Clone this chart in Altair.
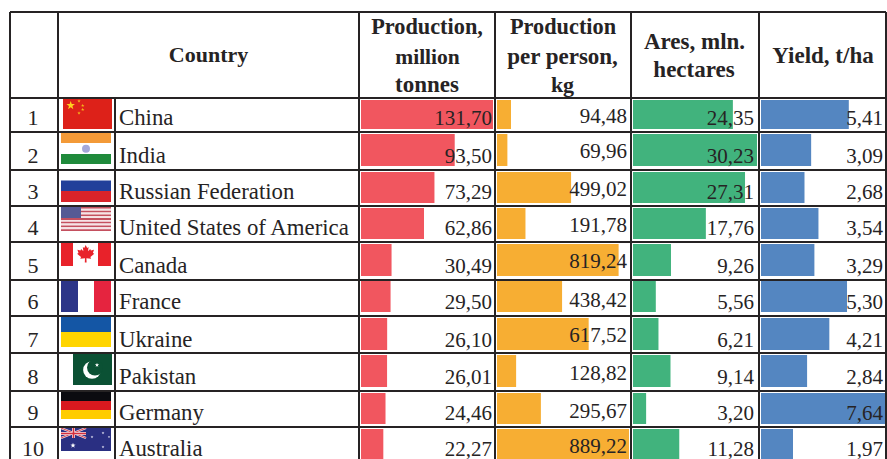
import altair as alt
import pandas as pd

# Table content
countries = ["China", "India", "Russian Federation", "United States of America", "Canada",
             "France", "Ukraine", "Pakistan", "Germany", "Australia"]
production = [131.70, 93.50, 73.29, 62.86, 30.49, 29.50, 26.10, 26.01, 24.46, 22.27]
per_person = [94.48, 69.96, 499.02, 191.78, 819.24, 438.42, 617.52, 128.82, 295.67, 889.22]
area = [24.35, 30.23, 27.31, 17.76, 9.26, 5.56, 6.21, 9.14, 3.20, 11.28]
crop_yield = [5.41, 3.09, 2.68, 3.54, 3.29, 5.30, 4.21, 2.84, 7.64, 1.97]

# Table geometry, in pixels
COL_EDGES = [10, 58, 115, 359, 495, 631, 759, 886]
ROW_EDGES = [12, 98, 132, 170, 206, 242, 280, 316, 353, 391, 427, 463]
BAR_EDGES = [100, 129, 134, 166, 172, 203, 208, 239, 244, 276,
             281, 312, 318, 350, 355, 387, 393, 424, 429, 461]
BASE_MAIN = [125, 163, 199, 235, 273, 309, 347, 384, 420, 456]
BASE_PER_PERSON = [123, 158, 196, 232, 268, 307, 342, 380, 418, 453]
INK = "#262324"
SERIF = "Liberation Serif"
NUM_SIZE = 21
NAME_SIZE = 22.8

x_grid = alt.Scale(domain=list(range(8)), range=COL_EDGES, nice=False, zero=False)
y_grid = alt.Scale(domain=list(range(-1, 11)), range=ROW_EDGES, nice=False, zero=False)
y_bars = alt.Scale(domain=[i / 2 for i in range(20)], range=BAR_EDGES, nice=False, zero=False)


def comma(v):
    return f"{v:.2f}".replace(".", ",")


def no_axis(field, scale):
    return alt.X(field, type="quantitative", axis=None, scale=scale)


def no_axis_y(field, scale):
    return alt.Y(field, type="quantitative", axis=None, scale=scale)


def column_layers(values, color, left, right, text_dx, col_right, baselines):
    rows = pd.DataFrame({
        "row": range(10),
        "bottom": [r + 0.5 for r in range(10)],
        "zero": [0] * 10,
        "value": values,
        "label": [comma(v) for v in values],
        "edge": [col_right] * 10,
        "base": baselines,
    })
    bars = alt.Chart(rows).mark_rect(color=color).encode(
        x=no_axis("zero", alt.Scale(domain=[0, max(values)], range=[left, right], nice=False, zero=False)),
        x2="value:Q",
        y=no_axis_y("row", y_bars),
        y2="bottom:Q",
    )
    labels = alt.Chart(rows).mark_text(
        align="right", baseline="alphabetic", font=SERIF, fontSize=NUM_SIZE, color=INK, dx=text_dx
    ).encode(
        x=no_axis("edge", None),
        y=no_axis_y("base", None),
        text="label:N",
    )
    return bars, labels


bars_a, text_a = column_layers(production, "#f1565f", 361, 493, -3, COL_EDGES[4], BASE_MAIN)
bars_b, text_b = column_layers(per_person, "#f7ae33", 497, 629, -4, COL_EDGES[5], BASE_PER_PERSON)
bars_c, text_c = column_layers(area, "#41b37d", 633, 757, -5, COL_EDGES[6], BASE_MAIN)
bars_d, text_d = column_layers(crop_yield, "#5486c1", 761, 885, -3, COL_EDGES[7], BASE_MAIN)

# Grid lines
h_lines = pd.DataFrame({"row": list(range(-1, 10)), "a": [0] * 11, "b": [7] * 11})
v_lines = pd.DataFrame({
    "col": list(range(8)),
    "top": [-1, -1, 0, -1, -1, -1, -1, -1],
    "bottom": [10] * 8,
})
grid_h = alt.Chart(h_lines).mark_rule(color=INK, strokeWidth=2).encode(
    x=no_axis("a", x_grid), x2="b:Q", y=no_axis_y("row", y_grid)
)
grid_v = alt.Chart(v_lines).mark_rule(color=INK, strokeWidth=2).encode(
    x=no_axis("col", x_grid), y=no_axis_y("top", y_grid), y2="bottom:Q"
)

# Row numbers and country names
names = pd.DataFrame({
    "rank": [str(i + 1) for i in range(10)],
    "name": countries,
    "base": BASE_MAIN,
    "mid": [(COL_EDGES[0] + COL_EDGES[1]) / 2 - 1] * 10,
    "left": [COL_EDGES[2] + 4] * 10,
})
rank_text = alt.Chart(names).mark_text(
    align="center", baseline="alphabetic", font=SERIF, fontSize=NUM_SIZE + 1, color=INK
).encode(x=no_axis("mid", None), y=no_axis_y("base", None), text="rank:N")
name_text = alt.Chart(names).mark_text(
    align="left", baseline="alphabetic", font=SERIF, fontSize=NAME_SIZE, color=INK
).encode(x=no_axis("left", None), y=no_axis_y("base", None), text="name:N")

# Header cells: one row per printed line, each with its own size
head_lines = [
    ("Country", 208.5, 62, 22),
    ("Production,", 427, 34, 22.3), ("million", 427.5, 64, 21.5), ("tonnes", 427, 92, 23),
    ("Production", 563, 34, 22.3), ("per person,", 562.5, 64, 23), ("kg", 562.5, 92, 22),
    ("Ares, mln.", 694.5, 49, 23), ("hectares", 694, 77, 23),
    ("Yield, t/ha", 823, 63, 23),
]
heads = pd.DataFrame(head_lines, columns=["text", "cx", "base", "pt"])
head_text = alt.Chart(heads).mark_text(
    align="center", baseline="alphabetic", font=SERIF, fontWeight="bold", color=INK
).encode(
    x=no_axis("cx", None), y=no_axis_y("base", None), text="text:N",
    size=alt.Size("pt:Q", scale=None),
)

# Flags, drawn from plain rectangles and symbols
stripes = [
    # China
    (63, 112, 99, 129, "#dd2119"),
    # India
    (61, 111, 133, 143, "#f39a38"), (61, 111, 143, 154, "#ffffff"), (61, 111, 154, 164, "#1f8a3b"),
    # Russia
    (61, 111, 180.5, 191, "#22409a"), (61, 111, 191, 202, "#d9232a"),
    # Canada
    (61, 73, 243, 266, "#e8222a"), (98, 111, 243, 266, "#e8222a"),
    # France
    (61, 78, 281, 312, "#2c3588"), (94, 111, 281, 312, "#e5243f"),
    # Ukraine
    (61, 111, 317, 332, "#1456a5"), (61, 111, 332, 347, "#ffd500"),
    # Pakistan
    (73, 112, 354, 385, "#0b5134"),
    # Germany
    (61, 111, 392, 401, "#0b0b10"), (61, 111, 401, 410, "#d8191f"), (61, 111, 410, 419, "#ffcc00"),
    # Australia
    (61, 111, 428, 451, "#2a2f82"),
    (61, 86, 432, 435, "#f4e6ea"), (72, 75, 428, 438, "#f4e6ea"),
    (61, 86, 432.7, 434.3, "#d4303f"), (72.7, 74.3, 428, 438, "#d4303f"),
]
# United States: alternating stripes and the canton
us_top, us_height = 207, 24
for i in range(13):
    stripes.append((61, 111, us_top + us_height * i / 13, us_top + us_height * (i + 1) / 13,
                    "#c4505f" if i % 2 == 0 else "#f6e3e6"))
stripes.append((61, 81, 207, 218, "#565a94"))

stripe_df = pd.DataFrame(stripes, columns=["x0", "x1", "y0", "y1", "fill"])
flag_rects = alt.Chart(stripe_df).mark_rect().encode(
    x=no_axis("x0", None), x2="x1:Q", y=no_axis_y("y0", None), y2="y1:Q",
    color=alt.Color("fill:N", scale=None),
)

saltires = pd.DataFrame([
    (61, 428, 86, 438), (61, 438, 86, 428),
], columns=["x0", "y0", "x1", "y1"])
saltire_marks = alt.Chart(saltires).mark_rule(color="#f4e6ea", strokeWidth=2.2).encode(
    x=no_axis("x0", None), x2="x1:Q", y=no_axis_y("y0", None), y2="y1:Q"
)
saltire_red = alt.Chart(saltires).mark_rule(color="#d4303f", strokeWidth=0.9).encode(
    x=no_axis("x0", None), x2="x1:Q", y=no_axis_y("y0", None), y2="y1:Q"
)
recross = alt.Chart(stripe_df.iloc[[17, 18, 19, 20]]).mark_rect().encode(
    x=no_axis("x0", None), x2="x1:Q", y=no_axis_y("y0", None), y2="y1:Q",
    color=alt.Color("fill:N", scale=None),
)

discs = pd.DataFrame([
    (86, 148.7, 9, "#a5a8d8"),
    (92, 370, 20, "#ffffff"),
    (95, 367.5, 18, "#0b5134"),
], columns=["x", "y", "d", "fill"])
discs["size"] = discs["d"] ** 2 * 0.785
disc_marks = alt.Chart(discs).mark_circle(opacity=1).encode(
    x=no_axis("x", None), y=no_axis_y("y", None),
    size=alt.Size("size:Q", scale=None),
    color=alt.Color("fill:N", scale=None),
)

STAR = ("M0,-1L0.235,-0.324L0.951,-0.309L0.38,0.124L0.588,0.809L0,0.4"
        "L-0.588,0.809L-0.38,0.124L-0.951,-0.309L-0.235,-0.324Z")
MAPLE = ("M0,-1L0.16,-0.68L0.32,-0.78L0.26,-0.3L0.5,-0.56L0.58,-0.4L0.92,-0.46L0.8,-0.12L0.95,-0.02"
         "L0.52,0.34L0.6,0.52L0.08,0.46L0.1,0.95L-0.1,0.95L-0.08,0.46L-0.6,0.52L-0.52,0.34L-0.95,-0.02"
         "L-0.8,-0.12L-0.92,-0.46L-0.58,-0.4L-0.5,-0.56L-0.26,-0.3L-0.32,-0.78L-0.16,-0.68Z")

stars = pd.DataFrame([
    (70.7, 105.5, 9, "#ffd21f"),
    (79, 101, 3.6, "#f5b31a"), (82.7, 105.5, 3.6, "#f5b31a"),
    (82.7, 109.5, 3.6, "#f5b31a"), (79, 113, 3.6, "#f5b31a"),
    (97, 365, 4.5, "#ffffff"),
    (73, 445.5, 5.5, "#ffffff"), (92, 437, 3, "#e8e8f5"), (103, 433, 3, "#e8e8f5"),
    (109, 437, 2.5, "#e8e8f5"), (103, 447, 3, "#e8e8f5"),
], columns=["x", "y", "d", "fill"])
stars["size"] = stars["d"] ** 2
star_marks = alt.Chart(stars).mark_point(filled=True, shape=STAR, opacity=1, strokeWidth=0).encode(
    x=no_axis("x", None), y=no_axis_y("y", None),
    size=alt.Size("size:Q", scale=None),
    color=alt.Color("fill:N", scale=None),
)
leaf = pd.DataFrame({"x": [85.7], "y": [254], "size": [18 ** 2], "fill": ["#e8222a"]})
leaf_mark = alt.Chart(leaf).mark_point(filled=True, shape=MAPLE, opacity=1, strokeWidth=0).encode(
    x=no_axis("x", None), y=no_axis_y("y", None),
    size=alt.Size("size:Q", scale=None),
    color=alt.Color("fill:N", scale=None),
)

chart = alt.layer(
    flag_rects, saltire_marks, saltire_red, recross, disc_marks, star_marks, leaf_mark,
    bars_a, bars_b, bars_c, bars_d,
    grid_h, grid_v,
    rank_text, name_text, head_text,
    text_a, text_b, text_c, text_d,
).resolve_scale(x="independent", y="independent").properties(
    width=887, height=459, padding=0, background="white",
    autosize=alt.AutoSizeParams(type="none"),
).configure_view(stroke=None)

chart.save("out.html", embed_options={"renderer": "svg", "actions": False})
